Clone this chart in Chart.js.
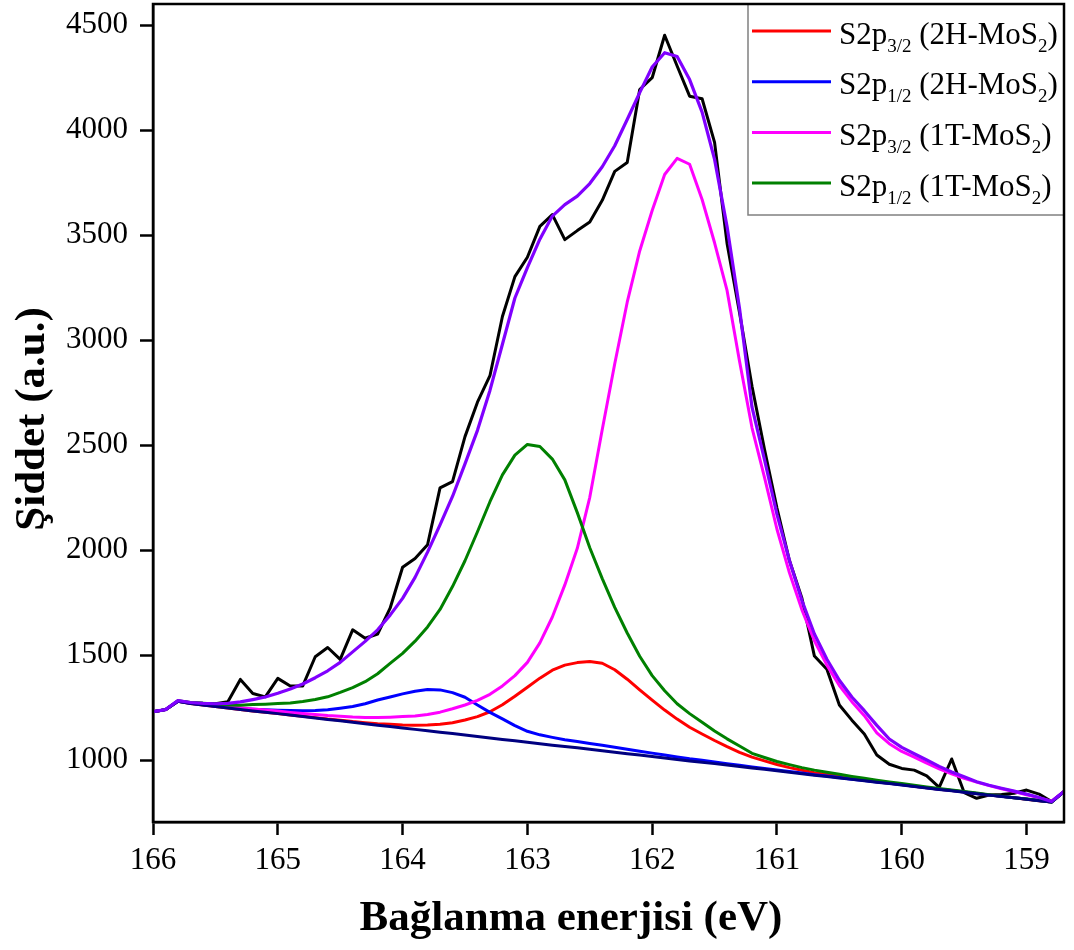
<!DOCTYPE html>
<html><head><meta charset="utf-8">
<script src="https://cdn.jsdelivr.net/npm/chart.js@4.4.1/dist/chart.umd.min.js"></script>
<style>html,body{margin:0;padding:0;background:#fff;}#c{display:block;}</style>
</head><body>
<canvas id="c" width="1074" height="950"></canvas>
<script>
// Binding energy (eV), 0.1 eV steps
const energies = [
166.0,165.9,165.8,165.7,165.6,165.5,165.4,165.3,165.2,165.1,
165.0,164.9,164.8,164.7,164.6,164.5,164.4,164.3,164.2,164.1,
164.0,163.9,163.8,163.7,163.6,163.5,163.4,163.3,163.2,163.1,
163.0,162.9,162.8,162.7,162.6,162.5,162.4,162.3,162.2,162.1,
162.0,161.9,161.8,161.7,161.6,161.5,161.4,161.3,161.2,161.1,
161.0,160.9,160.8,160.7,160.6,160.5,160.4,160.3,160.2,160.1,
160.0,159.9,159.8,159.7,159.6,159.5,159.4,159.3,159.2,159.1,
159.0,158.9,158.8,158.7];

const measured = [
1230,1240,1283,1274,1270,1268,1278,1384,1317,1301,
1389,1353,1353,1492,1536,1479,1620,1580,1600,1723,
1918,1960,2025,2296,2326,2540,2704,2830,3112,3302,
3394,3541,3597,3478,3521,3562,3665,3803,3845,4193,
4249,4451,4305,4161,4149,3941,3460,3130,2780,2480,
2200,1950,1770,1495,1432,1262,1190,1124,1024,980,
960,952,925,870,1005,845,818,833,836,842,
857,838,802,850];

const envelope = [
1230,1240,1283,1274,1270,1268,1270,1277,1288,1300,
1318,1338,1362,1392,1425,1465,1515,1565,1620,1690,
1770,1870,1990,2120,2255,2410,2570,2760,2980,3200,
3345,3480,3590,3645,3685,3745,3825,3925,4050,4178,
4300,4368,4350,4240,4085,3860,3540,3150,2680,2430,
2170,1950,1760,1600,1480,1380,1300,1235,1165,1100,
1060,1030,1000,970,943,920,897,880,866,852,
838,822,803,850];

const background = [
1230,1240,1280,1269,1262,1255,1248,1241,1234,1228,
1221,1214,1207,1200,1193,1187,1180,1173,1166,1160,
1153,1146,1139,1132,1126,1119,1112,1105,1098,1092,
1085,1078,1071,1064,1058,1051,1044,1037,1030,1024,
1017,1010,1003,996,990,983,976,969,962,956,
949,942,935,928,922,915,908,901,894,888,
881,874,867,860,854,847,840,833,826,820,
813,806,800,850];

const s2p32_2H = [
1230,1240,1280,1269,1262,1255,1248,1241,1234,1228,
1222,1215,1209,1202,1195,1190,1183,1178,1173,1170,
1167,1166,1167,1170,1178,1191,1207,1230,1263,1304,
1347,1390,1428,1452,1464,1469,1461,1430,1385,1334,
1285,1238,1195,1156,1124,1093,1064,1037,1014,996,
979,964,951,940,931,922,913,905,897,890,
883,875,868,861,855,848,841,834,827,820,
813,806,800,850];

const s2p12_2H = [
1230,1240,1280,1270,1263,1257,1251,1246,1242,1239,
1237,1236,1235,1236,1239,1247,1255,1268,1286,1300,
1315,1328,1336,1334,1321,1299,1262,1227,1196,1164,
1137,1120,1108,1097,1088,1079,1070,1061,1051,1042,
1033,1024,1015,1006,999,991,983,975,967,960,
953,945,938,930,924,917,909,902,895,889,
882,875,868,861,855,848,841,834,827,821,
814,807,800,850];

const s2p32_1T = [
1230,1240,1280,1273,1267,1261,1255,1249,1243,1238,
1233,1227,1222,1217,1212,1209,1205,1203,1202,1204,
1207,1210,1217,1228,1244,1262,1284,1313,1353,1402,
1465,1558,1681,1834,2008,2251,2574,2887,3180,3424,
3617,3788,3865,3837,3669,3463,3236,2899,2582,2346,
2099,1892,1715,1568,1452,1355,1278,1211,1129,1078,
1041,1014,985,958,934,913,895,878,863,850,
835,820,804,850];

const s2p12_1T = [
1230,1240,1280,1273,1270,1267,1262,1261,1264,1266,
1269,1272,1279,1288,1301,1322,1345,1373,1411,1460,
1508,1566,1634,1717,1826,1949,2087,2230,2358,2452,
2503,2493,2433,2334,2178,2011,1864,1727,1605,1494,
1402,1330,1268,1221,1180,1138,1101,1067,1032,1012,
993,978,964,952,942,932,922,913,904,896,
888,880,872,864,858,850,843,835,828,821,
814,807,800,850];

const xTicks = [166,165,164,163,162,161,160,159];
const yTicks = [1000,1500,2000,2500,3000,3500,4000,4500];
const xTitle = 'Bağlanma enerjisi (eV)';
const yTitle = 'Şiddet (a.u.)';
const legendItems = [
  {color:'#ff0000', parts:[['S2p',0],['3/2',1],[' (2H-MoS',0],['2',1],[')',0]]},
  {color:'#0000ff', parts:[['S2p',0],['1/2',1],[' (2H-MoS',0],['2',1],[')',0]]},
  {color:'#ff00ff', parts:[['S2p',0],['3/2',1],[' (1T-MoS',0],['2',1],[')',0]]},
  {color:'#008000', parts:[['S2p',0],['1/2',1],[' (1T-MoS',0],['2',1],[')',0]]}
];

const FAM = "'Liberation Serif','Times New Roman',serif";
const pts = arr => energies.map((e,i)=>({x:e, y:arr[i]}));

function ds(data, color, width, order){
  return {data: pts(data), borderColor: color, borderWidth: width, pointRadius: 0,
          tension: 0, fill: false, order: order, borderJoinStyle: 'round'};
}

const framePlugin = {
  id: 'frame',
  afterDraw(chart){
    const ctx = chart.ctx, a = chart.chartArea;
    ctx.save();
    // legend box
    const bw = 316, bh = 211, bx = a.right - bw, by = a.top;
    ctx.fillStyle = '#fff';
    ctx.fillRect(bx, by, bw, bh);
    ctx.strokeStyle = '#808080'; ctx.lineWidth = 1.5;
    ctx.strokeRect(bx, by, bw, bh);
    legendItems.forEach((it, i) => {
      const ly = by + 27 + i*50.7;
      ctx.strokeStyle = it.color; ctx.lineWidth = 3;
      ctx.beginPath(); ctx.moveTo(bx+4, ly); ctx.lineTo(bx+83, ly); ctx.stroke();
      let tx = bx + 91; const base = ly + 12.5;
      ctx.fillStyle = '#000'; ctx.textAlign = 'left'; ctx.textBaseline = 'alphabetic';
      it.parts.forEach(([t, sub]) => {
        ctx.font = sub ? ('19px ' + FAM) : ('31px ' + FAM);
        ctx.fillText(t, tx, sub ? base + 8 : base);
        tx += ctx.measureText(t).width;
      });
    });
    // frame
    ctx.strokeStyle = '#000'; ctx.lineWidth = 2.5;
    ctx.strokeRect(a.left, a.top, a.right - a.left, a.bottom - a.top);
    // axis titles
    ctx.fillStyle = '#000';
    ctx.font = 'bold 43px ' + FAM;
    ctx.textAlign = 'center'; ctx.textBaseline = 'alphabetic';
    ctx.fillText(xTitle, 571, 930);
    ctx.translate(44, 419); ctx.rotate(-Math.PI/2);
    ctx.fillText(yTitle, 0, 0);
    ctx.restore();
  }
};

new Chart(document.getElementById('c'), {
  type: 'line',
  data: { datasets: [
    ds(envelope, '#8000ff', 3.2, 0),
    ds(background, '#000080', 3, 1),
    ds(s2p12_1T, '#008000', 3, 2),
    ds(s2p32_1T, '#ff00ff', 3, 3),
    ds(s2p12_2H, '#0000ff', 3, 4),
    ds(s2p32_2H, '#ff0000', 3, 5),
    ds(measured, '#000000', 3, 6)
  ]},
  options: {
    responsive: false, animation: false, devicePixelRatio: 1,
    layout: { padding: { top: 4, right: 10, left: 0, bottom: 0 } },
    plugins: { legend: { display: false }, tooltip: { enabled: false }, title: { display: false } },
    scales: {
      x: {
        type: 'linear', reverse: true, min: 158.7, max: 166,
        afterBuildTicks: s => { s.ticks = xTicks.map(v => ({value: v})); },
        afterFit: s => { s.height = 128; s.paddingLeft = 0; s.paddingRight = 0; },
        grid: { drawOnChartArea: false, drawTicks: true, tickLength: 13, tickWidth: 2.5, tickColor: '#000' },
        border: { display: true, color: '#000', width: 2.5 },
        ticks: { color: '#000', font: { family: FAM, size: 31 }, padding: 7, maxRotation: 0, autoSkip: false,
                 callback: v => String(v) }
      },
      y: {
        type: 'linear', min: 705, max: 4600,
        afterBuildTicks: s => { s.ticks = yTicks.map(v => ({value: v})); },
        afterFit: s => { s.width = 153; s.paddingTop = 0; s.paddingBottom = 0; },
        grid: { drawOnChartArea: false, drawTicks: true, tickLength: 13, tickWidth: 2.5, tickColor: '#000' },
        border: { display: true, color: '#000', width: 2.5 },
        ticks: { color: '#000', font: { family: FAM, size: 31 }, padding: 12, autoSkip: false,
                 callback: v => String(v) }
      }
    }
  },
  plugins: [framePlugin]
});
</script>
</body></html>
